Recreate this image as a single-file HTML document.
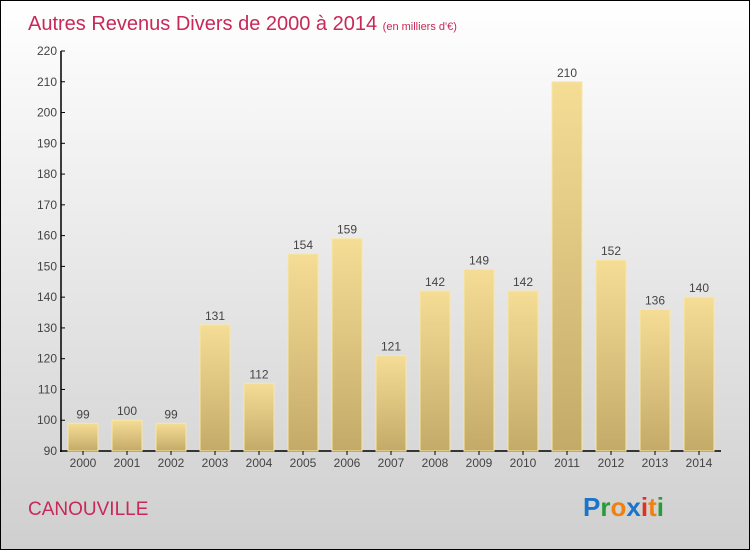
<!DOCTYPE html>
<html><head><meta charset="utf-8"><style>
body{margin:0}
#c{position:relative;width:748px;height:548px;border:1px solid #000;background:linear-gradient(#fff,#cfcfcf);font-family:"Liberation Sans",sans-serif;overflow:hidden}
</style></head><body>
<div id="c">
<svg id="s" width="748" height="548" style="position:absolute;left:0;top:0">
<defs><linearGradient id="bg" x1="0" y1="0" x2="0" y2="1"><stop offset="0" stop-color="#f5dd96"/><stop offset="1" stop-color="#c4aa68"/></linearGradient></defs>
<text x="27" y="29" font-size="20" fill="#c8285a">Autres Revenus Divers de 2000 à 2014 <tspan font-size="11">(en milliers d'€)</tspan></text>
<text x="27" y="514" font-size="19" fill="#c8285a">CANOUVILLE</text>
<g font-size="26" font-weight="bold"><text x="582" y="515"><tspan fill="#1a74c8">P</tspan><tspan fill="#2a9a3a">r</tspan><tspan fill="#f08010">o</tspan><tspan fill="#1a74c8">x</tspan><tspan fill="#e03020">i</tspan><tspan fill="#f08010">t</tspan><tspan fill="#2a9a3a">i</tspan></text></g>
<g id="g"></g>
</svg>
</div>
<script>
const years=["2000","2001","2002","2003","2004","2005","2006","2007","2008","2009","2010","2011","2012","2013","2014"];
const values=[99,100,99,131,112,154,159,121,142,149,142,210,152,136,140];
const ticks=[90,100,110,120,130,140,150,160,170,180,190,200,210,220];
const NS="http://www.w3.org/2000/svg",g=document.getElementById('g');
const y=v=>450-(v-90)*400/130, x=i=>82+i*44;
function el(t,a,txt){const e=document.createElementNS(NS,t);for(const k in a)e.setAttribute(k,a[k]);if(txt!==undefined)e.textContent=txt;g.appendChild(e);return e;}
let a=el('line',{x1:60,y1:50,x2:60,y2:451,stroke:'#000','stroke-width':1.5});


a=el('line',{x1:59,y1:450,x2:720,y2:450,stroke:'#000','stroke-width':1.5});


ticks.forEach(t=>{
 el('line',{x1:60,y1:y(t),x2:64,y2:y(t),stroke:'#000'});
 const l=el('text',{x:56,y:y(t)+4,'font-size':12,fill:'#444','text-anchor':'end'},t);
 
 
});
years.forEach((yr,i)=>{
 const b=el('rect',{x:x(i)-15,y:y(values[i]),width:30,height:450-y(values[i]),fill:'url(#bg)',stroke:'#f7e7a8','stroke-width':1});
 
 
 const v=el('text',{x:x(i),y:y(values[i])-5,'font-size':12,fill:'#444','text-anchor':'middle'},values[i]);
 
 
 el('line',{x1:x(i),y1:450,x2:x(i),y2:454,stroke:'#000'});
 const l=el('text',{x:x(i),y:466,'font-size':12,fill:'#444','text-anchor':'middle'},yr);
 
 
});
</script>
</body></html>
